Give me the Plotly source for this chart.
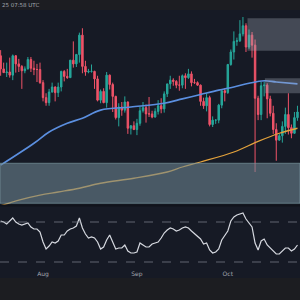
import plotly.graph_objects as go
import pandas as pd

# ---- data (BTC-like daily candles, price in $k) ----
dates = pd.date_range("2025-07-18", "2025-10-24", freq="D")
opens = [120.0,117.9,117.3,117.4,116.9,120.0,118.7,118.3,117.6,117.9,119.4,118.0,117.8,117.8,
         115.7,113.3,112.5,114.2,115.0,114.1,115.0,117.5,116.7,116.5,119.3,118.7,120.2,123.3,
         118.3,117.4,117.5,117.5,116.3,112.9,114.3,112.5,116.9,115.4,113.5,110.1,111.8,111.3,
         112.6,108.4,108.8,
         108.2,109.2,111.2,111.7,110.7,110.7,110.2,111.1,112.0,111.5,113.9,115.5,116.1,115.9,
         115.3,115.3,116.8,116.5,117.1,115.7,115.7,115.3,112.7,112.0,113.3,109.0,109.7,109.7,
         112.1,114.4,
         114.1,118.6,120.6,122.3,122.4,123.5,124.8,121.4,123.3,121.7,113.2,110.6,115.2,115.3,
         113.1,110.8,108.2,106.5,107.2,108.7,110.6,108.5,107.6,110.1]
highs = [120.9,118.9,118.9,119.7,120.2,120.1,119.5,118.5,118.3,119.8,119.8,119.2,118.7,118.9,
         116.1,114.0,114.7,115.7,115.1,115.7,117.6,117.7,117.9,119.3,122.3,120.3,123.7,124.4,
         119.2,117.9,118.6,117.6,116.8,114.6,114.8,117.4,117.0,115.7,113.6,112.4,112.6,113.5,
         112.7,108.9,109.5,
         109.9,111.8,112.6,112.2,113.4,111.2,111.6,112.9,113.2,114.3,115.5,116.8,116.4,116.1,
         116.8,117.0,117.2,117.9,117.5,116.3,115.9,115.4,113.3,114.0,113.6,110.3,109.8,112.3,
         114.4,114.8,
         118.7,121.0,123.9,122.9,125.7,126.2,125.2,124.2,123.8,122.6,113.6,115.8,115.9,115.6,
         113.6,112.0,109.2,107.5,109.5,111.7,114.0,109.0,111.0,112.0]
lows = [116.8,117.3,116.6,116.5,116.1,117.3,117.4,114.7,117.2,117.8,117.4,116.9,115.8,115.5,
        112.7,112.0,112.0,114.1,112.7,113.4,114.3,115.9,116.3,116.5,118.1,118.2,118.9,117.2,
        116.8,117.2,117.3,114.7,112.7,112.4,112.4,111.7,114.6,111.0,109.8,108.7,110.4,110.9,
        107.5,107.4,108.1,
        107.3,108.8,110.9,109.3,110.2,110.0,110.1,110.6,110.8,110.9,113.4,114.7,115.2,114.8,
        114.4,114.8,114.7,116.3,115.1,115.5,115.2,112.0,111.5,111.1,108.7,108.6,109.1,109.2,
        111.6,112.7,
        113.9,118.4,119.4,121.6,122.2,123.1,120.6,121.1,119.7,101.4,109.7,109.7,113.5,110.0,
        110.3,107.5,103.2,106.4,106.1,107.5,107.4,106.8,107.5,109.6]
closes = [117.9,117.3,117.4,116.9,120.0,118.7,118.3,117.6,117.9,119.4,118.0,117.8,117.8,115.7,
          113.3,112.5,114.2,115.0,114.1,115.0,117.5,116.7,116.5,119.3,118.7,120.2,123.3,118.3,
          117.4,117.5,117.5,116.3,112.9,114.3,112.5,116.9,115.4,113.5,110.1,111.8,111.3,112.6,
          108.4,108.8,108.2,
          109.2,111.2,111.7,110.7,110.7,110.2,111.1,112.0,111.5,113.9,115.5,116.1,115.9,115.3,
          115.3,116.8,116.5,117.1,115.7,115.7,115.3,112.7,112.0,113.3,109.0,109.7,109.7,112.1,
          114.4,114.1,
          118.6,120.6,122.3,122.4,123.5,124.8,121.4,123.3,121.7,113.2,110.6,115.2,115.3,113.1,
          110.8,108.2,106.5,107.2,108.7,110.6,108.5,107.6,110.1,111.0]

rsi = [71,70,68,71,74,70,68,67,68,69,65,63,63,60,
       50,43,46,50,49,51,57,57,61,63,64,66,74,64,58,54,55,54,50,43,45,52,57,50,43,44,44,47,
       41,39,39,
       40,49,47,45,45,48,49,50,54,59,62,64,63,61,62,64,65,64,61,58,56,53,48,49,42,39,40,43,
       52,57,
       61,71,75,77,78,79,73,69,65,49,42,51,53,47,44,41,38,38,41,44,44,41,43,47]

ma100_dates = ["2025-07-18","2025-07-29","2025-08-03","2025-08-09","2025-08-14","2025-08-20",
               "2025-08-30","2025-09-10","2025-09-16","2025-09-22","2025-09-28","2025-10-03",
               "2025-10-08","2025-10-13","2025-10-17","2025-10-24"]
ma100_vals = [102.5,106.0,107.8,109.2,110.0,111.3,111.8,112.4,113.1,113.8,114.5,115.0,
              115.6,116.0,115.8,115.5]

ma200_dates = ["2025-07-18","2025-07-24","2025-07-31","2025-08-06","2025-08-13","2025-08-20",
               "2025-08-31","2025-09-11","2025-09-16","2025-09-22","2025-10-03","2025-10-11",
               "2025-10-18","2025-10-24"]
ma200_vals = [96.0,96.9,97.7,98.2,98.8,99.6,100.4,101.4,102.2,103.0,104.6,106.3,107.6,108.4]

demand_zone = [96.4, 102.8]
supply_zone_1 = ["2025-10-07 12:00", 120.8, 126.0]
supply_zone_2 = ["2025-10-13 06:00", 114.0, 116.4]
rsi_levels = [70, 30]
tick_dates = ["2025-08-01", "2025-09-01", "2025-10-01"]
tick_labels = ["Aug", "Sep", "Oct"]

BG = "#161a25"

fig = go.Figure()
fig.add_trace(go.Candlestick(
    x=dates, open=opens, high=highs, low=lows, close=closes,
    increasing=dict(line=dict(color="#26a69a", width=1), fillcolor="#26a69a"),
    decreasing=dict(line=dict(color="#ef5368", width=1), fillcolor="#ef5368"),
    whiskerwidth=0, xaxis="x", yaxis="y", showlegend=False))
fig.add_trace(go.Scatter(x=ma100_dates, y=ma100_vals, mode="lines",
                         line=dict(color="#5b8fe0", width=1.6, shape="spline"),
                         xaxis="x", yaxis="y", showlegend=False))
fig.add_trace(go.Scatter(x=ma200_dates, y=ma200_vals, mode="lines",
                         line=dict(color="#e3a23c", width=1.3, shape="spline"),
                         xaxis="x", yaxis="y", showlegend=False))
fig.add_trace(go.Scatter(x=dates, y=rsi, mode="lines",
                         line=dict(color="#d6d9e0", width=1.2),
                         xaxis="x", yaxis="y2", showlegend=False))

shapes = []
# zones
shapes.append(dict(type="rect", xref="paper", yref="y", x0=0, x1=1,
                   y0=demand_zone[0], y1=demand_zone[1],
                   fillcolor="rgba(110,136,148,0.58)", line=dict(width=1, color="rgba(130,160,170,0.6)"),
                   layer="above"))
for z in (supply_zone_1, supply_zone_2):
    shapes.append(dict(type="rect", xref="x", yref="y", x0=z[0], x1="2025-10-30",
                       y0=z[1], y1=z[2], fillcolor="rgba(165,170,185,0.33)",
                       line=dict(width=0), layer="above"))
# rsi levels
for lv in rsi_levels:
    shapes.append(dict(type="line", xref="paper", yref="y2", x0=0, x1=1, y0=lv, y1=lv,
                       line=dict(color="rgba(130,134,146,0.7)", width=1, dash="dash")))
# header and footer strips
shapes.append(dict(type="rect", xref="paper", yref="paper", x0=0, x1=1, y0=1 - 10 / 300, y1=1,
                   fillcolor="#1c1d22", line=dict(width=0), layer="above"))
shapes.append(dict(type="rect", xref="paper", yref="paper", x0=0, x1=1, y0=0, y1=1 - 278 / 300,
                   fillcolor="#1c1d21", line=dict(width=0), layer="above"))
shapes.append(dict(type="line", xref="paper", yref="paper", x0=0, x1=1,
                   y0=1 - 205.5 / 300, y1=1 - 205.5 / 300,
                   line=dict(color="#10131b", width=2), layer="above"))

fig.update_layout(
    width=300, height=300, margin=dict(l=0, r=0, t=0, b=0),
    paper_bgcolor=BG, plot_bgcolor=BG,
    shapes=shapes,
    xaxis=dict(type="date", range=["2025-07-17 19:00", "2025-10-24 20:00"],
               rangeslider=dict(visible=False), showgrid=False, zeroline=False,
               tickvals=tick_dates, ticktext=tick_labels, ticks="", ticklen=0,
               tickfont=dict(family="DejaVu Sans", size=6, color="#a3a6ae"),
               anchor="y2", showline=False),
    yaxis=dict(domain=[1 - 205 / 300, 1 - 10 / 300], range=[96.12, 127.32],
               showgrid=False, zeroline=False, showticklabels=False),
    yaxis2=dict(domain=[1 - 269 / 300, 1 - 207 / 300], range=[23, 85],
                showgrid=False, zeroline=False, showticklabels=False),
    annotations=[dict(text="25 07:58 UTC", x=0, y=1 - 5 / 300, xref="paper", yref="paper",
                      xanchor="left", yanchor="middle", showarrow=False,
                      font=dict(family="DejaVu Sans", size=5.5, color="#a3a6ae"))],
)

fig.write_html("out.html")
